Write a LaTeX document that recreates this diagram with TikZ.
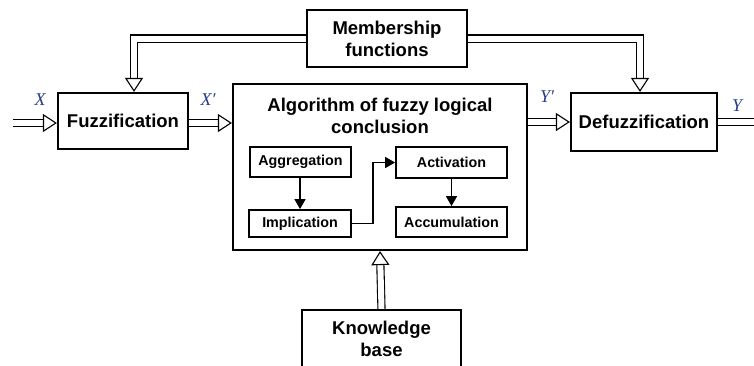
\documentclass[tikz,border=0pt]{standalone}
\usepackage{fontspec}
\setmainfont{Liberation Sans}
\newfontfamily\tnr{Liberation Serif}
\usetikzlibrary{arrows.meta}
\definecolor{lblblue}{RGB}{40,60,140}
\begin{document}
\begin{tikzpicture}[x=1pt,y=-1pt,
  bigbox/.style={draw, line width=2.2pt, inner sep=0pt, align=center, font=\fontsize{18.5}{22}\selectfont\bfseries},
  smallbox/.style={draw, line width=1.8pt, inner sep=0pt, align=center, font=\fontsize{14.3}{16}\selectfont\bfseries},
  dbl/.style={double distance=6pt, line width=1.1pt, -{Triangle[open, length=14pt, width=18pt, line width=1.1pt]}},
  thin/.style={line width=1.4pt, -{Triangle[length=10pt, width=11pt]}},
  lbl/.style={text=lblblue, font=\fontsize{18}{20}\selectfont\tnr\itshape}
]
\clip (0,0) rectangle (754,365);
\fill[white] (0,0) rectangle (754,365);

\node[bigbox, minimum width=160pt, minimum height=57pt] (mf) at (387,38.5) {Membership\\functions};
\node[bigbox, minimum width=130pt, minimum height=56pt] (fz) at (123,121) {Fuzzification};
\node[bigbox, minimum width=294pt, minimum height=166pt] (alg) at (380,167) {};
\node[font=\fontsize{18.5}{22}\selectfont\bfseries, align=center] (algt) at (380,116) {Algorithm of fuzzy logical\\conclusion};
\node[bigbox, minimum width=146pt, minimum height=58pt] (dfz) at (644,122) {Defuzzification};
\node[bigbox, minimum width=159pt, minimum height=68pt] (kb) at (381.5,344) {};
\node[font=\fontsize{18.5}{22}\selectfont\bfseries, align=center] (kbt) at (381.5,339) {Knowledge\\base};

\node[smallbox, minimum width=101pt, minimum height=30pt] (agg) at (300.5,162) {Aggregation};
\node[smallbox, minimum width=102pt, minimum height=27pt] (imp) at (300,223.5) {Implication};
\node[smallbox, minimum width=111pt, minimum height=31pt] (act) at (451.5,162.5) {Activation};
\node[smallbox, minimum width=111pt, minimum height=30pt] (acc) at (451.5,222) {Accumulation};

\coordinate (xin) at (13,123);
\coordinate (yout) at (768,122);

% double arrows
\draw[dbl] (mf.west) -| ([xshift=11pt]fz.north);
\draw[dbl] (mf.east) -| ([xshift=-4pt]dfz.north);
\draw[dbl] (xin) -- (xin -| fz.west);
\draw[dbl] ([yshift=-2pt]fz.east) -- ([yshift=-2pt]fz.east -| alg.west);
\draw[dbl] (alg.east |- dfz.west) -- (dfz.west);
\draw[dbl] (dfz.east) -- (yout);
\draw[dbl] (kb.north) -- (alg.south);

% thin arrows
\draw[thin] (agg.south -| imp.north) -- (imp.north);
\draw[thin] (act.south) -- (acc.north);
\draw[thin] (imp.east) -- ++(21,0) |- (act.west);

% labels
\node[lbl] (lx) at (40,100) {X};
\node[lbl] (lxp) at (208,100) {X′};
\node[lbl] (lyp) at (547,97) {Y′};
\node[lbl] (ly) at (737,106) {Y};
\end{tikzpicture}
\end{document}
